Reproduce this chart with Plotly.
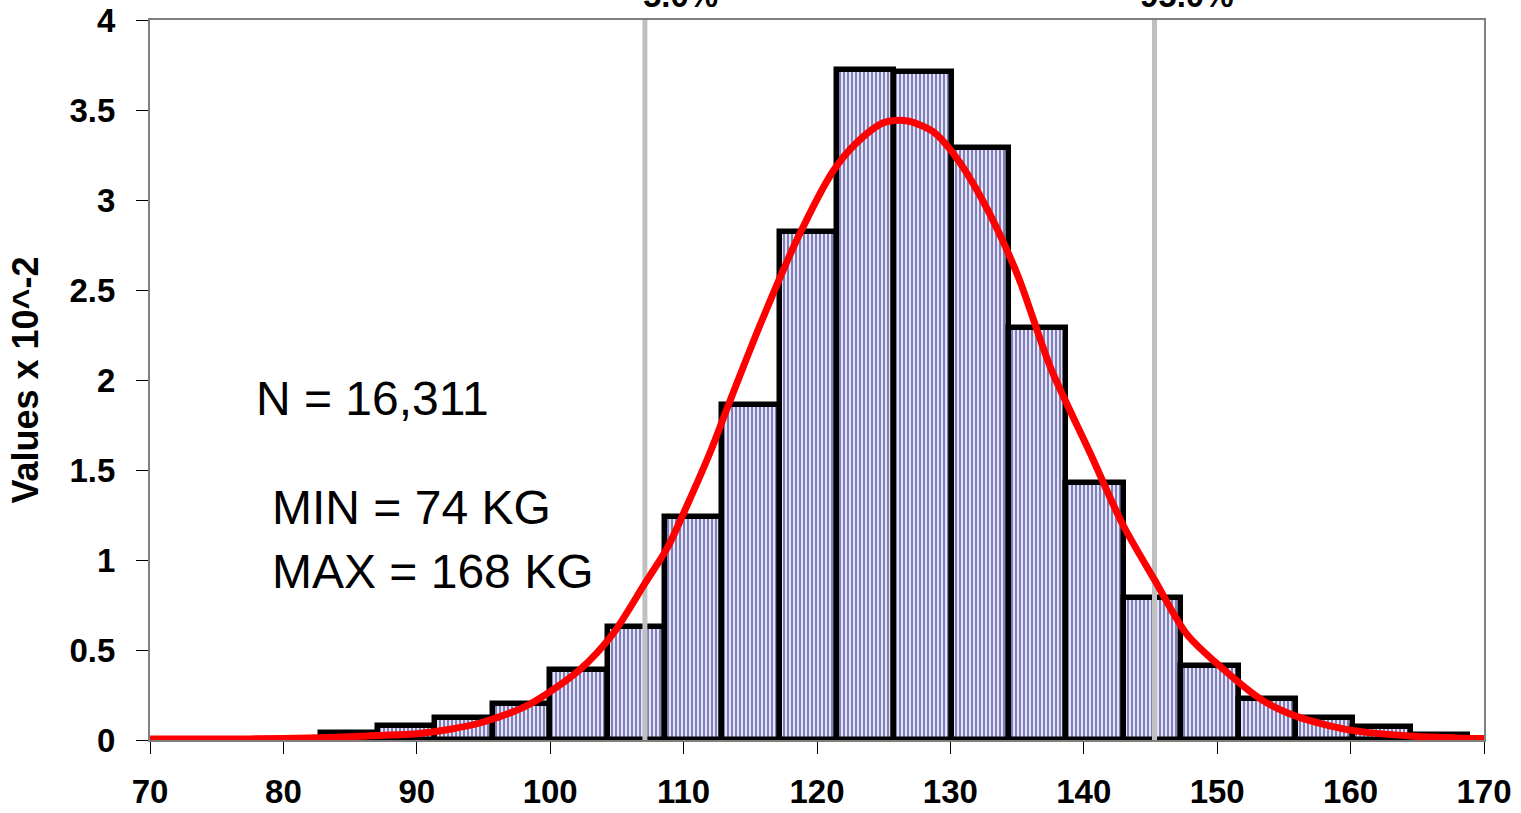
import plotly.graph_objects as go

# ---- data ----
bin_start = 82.8
bin_width = 4.3
bar_heights = [0.04, 0.08, 0.12, 0.20, 0.39, 0.63, 1.24, 1.86, 2.82, 3.72,
               3.71, 3.29, 2.29, 1.43, 0.79, 0.41, 0.23, 0.12, 0.07, 0.03]

curve_x = [70, 75, 80, 84, 87, 90, 92.5, 95, 98.5, 102.2, 104.7, 107.1, 108.8,
           110.3, 112.0, 113.3, 115.7, 118.5, 121.2, 123.0, 125.0, 126.7, 128.7,
           130.2, 132.4, 135.0, 137.5, 140.5, 142.9, 145.3, 147.7, 150.2, 153.4,
           156.0, 160, 165, 170]
curve_y = [0.005, 0.005, 0.008, 0.015, 0.025, 0.035, 0.06, 0.10, 0.20, 0.39,
           0.59, 0.87, 1.07, 1.31, 1.60, 1.85, 2.30, 2.78, 3.16, 3.32, 3.43,
           3.44, 3.38, 3.26, 3.00, 2.59, 2.07, 1.59, 1.20, 0.89, 0.59, 0.41,
           0.22, 0.13, 0.055, 0.02, 0.008]

percentile_x = [107.1, 145.3]
percentile_labels = ["5.0%", "95.0%"]
percentile_label_x = [109.8, 147.7]

x_ticks = [70, 80, 90, 100, 110, 120, 130, 140, 150, 160, 170]
y_ticks = [0, 0.5, 1, 1.5, 2, 2.5, 3, 3.5, 4]

info_texts = ["N = 16,311", "MIN = 74 KG", "MAX = 168 KG"]
info_x = [77.8, 79.0, 79.0]
info_y = [1.90, 1.29, 0.935]

FONT = "Arial, Liberation Sans, sans-serif"

bin_centers = [bin_start + bin_width * (i + 0.5) for i in range(len(bar_heights))]

fig = go.Figure()

fig.add_trace(go.Bar(
    x=bin_centers, y=bar_heights, width=bin_width,
    marker=dict(
        color="white",
        line=dict(color="black", width=5.5),
        pattern=dict(shape="|", fgcolor="#000080", bgcolor="white",
                     size=4, solidity=0.6, fillmode="overlay"),
    ),
    showlegend=False, hoverinfo="skip",
))

for px in percentile_x:
    fig.add_trace(go.Scatter(
        x=[px, px], y=[y_ticks[0], y_ticks[-1]], mode="lines",
        line=dict(color="#c0c0c0", width=5),
        showlegend=False, hoverinfo="skip",
    ))

fig.add_trace(go.Scatter(
    x=curve_x, y=curve_y, mode="lines",
    line=dict(color="#ff0000", width=7, shape="spline", smoothing=0.8),
    showlegend=False, hoverinfo="skip",
))

for t, lx in zip(percentile_labels, percentile_label_x):
    fig.add_annotation(
        x=lx, xref="x", y=1.006, yref="paper", text=t, showarrow=False,
        xanchor="center", yanchor="bottom",
        font=dict(family=FONT, size=33, color="black", weight="bold"),
    )

for t, ix, iy in zip(info_texts, info_x, info_y):
    fig.add_annotation(
        x=ix, y=iy, xref="x", yref="y", text=t, showarrow=False,
        xanchor="left", yanchor="middle",
        font=dict(family=FONT, size=48, color="black"),
    )

fig.update_layout(
    width=1521, height=813,
    margin=dict(l=150, r=37, t=20, b=73),
    paper_bgcolor="white", plot_bgcolor="white",
    bargap=0,
)

fig.update_xaxes(
    range=[70, 170], tickvals=x_ticks, ticktext=[str(v) for v in x_ticks],
    showgrid=False, zeroline=False, automargin=False,
    showline=True, linecolor="#808080", linewidth=2, mirror=True,
    ticks="outside", ticklen=12, tickcolor="black", tickwidth=1,
    ticklabelstandoff=9,
    tickfont=dict(family=FONT, size=33, color="black", weight="bold"),
)

fig.update_yaxes(
    range=[0, 4], tickvals=y_ticks, ticktext=[f"{v:g}" for v in y_ticks],
    showgrid=False, zeroline=False, automargin=False,
    showline=True, linecolor="#808080", linewidth=2, mirror=True,
    ticks="outside", ticklen=12, tickcolor="black", tickwidth=1,
    ticklabelstandoff=14,
    tickfont=dict(family=FONT, size=33, color="black", weight="bold"),
    title=dict(text="Values x 10^-2", standoff=20,
               font=dict(family=FONT, size=36, color="black", weight="bold")),
)

fig.write_html("out.html", config={"displayModeBar": False},
               post_script="document.body.style.margin='0';")
